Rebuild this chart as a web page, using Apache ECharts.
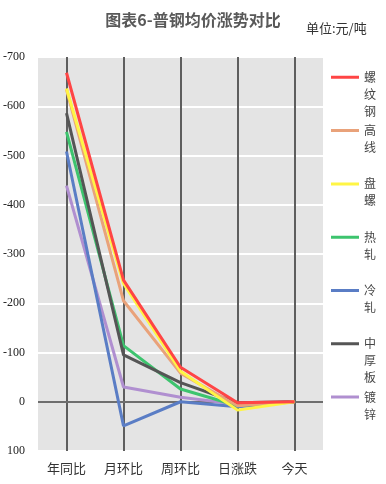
<!DOCTYPE html>
<html><head><meta charset="utf-8">
<script src="https://cdn.jsdelivr.net/npm/echarts@6/dist/echarts.min.js"></script>
<style>html,body{margin:0;padding:0;background:#fff}#c{width:386px;height:484px}</style>
</head><body><div id="c"></div>
<script>
// ---- data ----
const categories = ['年同比', '月环比', '周环比', '日涨跌', '今天'];
const seriesNames = ['螺纹钢', '高线', '盘螺', '热轧', '冷轧', '中厚板', '镀锌'];
const luoWenGang = [-668, -247, -70, 2, 0];
const gaoXian = [-634, -205, -58, 8, 0];
const panLuo = [-636, -240, -62, 17, 0];
const reZha = [-548, -114, -26, 8, 0];
const lengZha = [-508, 49, 0, 10, 0];
const zhongHouBan = [-586, -95, -39, 2, 0];
const duXin = [-439, -30, -9, 5, 0];
const yMin = -700, yMax = 100, yStep = 100;

const seriesValues = [luoWenGang, gaoXian, panLuo, reZha, lengZha, zhongHouBan, duXin];
const colors = ['#FF4545', '#E9A27A', '#FFF545', '#3DC46E', '#5A7DC5', '#555555', '#B08FD0'];
const zOrder = [20, 18, 19, 16, 15, 17, 14];

const chart = echarts.init(document.getElementById('c'), null, {renderer: 'canvas'});

const series = seriesNames.map((name, i) => ({
  name: name,
  type: 'line',
  data: seriesValues[i],
  symbol: 'none',
  showSymbol: false,
  z: zOrder[i],
  color: colors[i],
  lineStyle: {width: 3, color: colors[i]},
  emphasis: {disabled: true}
}));

series[0].markLine = {
  silent: true,
  z: 3,
  symbol: ['none', 'none'],
  label: {show: false},
  animation: false,
  data: categories.map(c => ({xAxis: c, lineStyle: {color: '#5e5e5e', width: 2, type: 'solid'}}))
    .concat([{yAxis: 0, lineStyle: {color: '#6e6e6e', width: 2, type: 'solid'}}])
};

const legendIcon = 'path://M0,0L0.001,0L0,0.001ZM0,7L28,7L28,10L0,10ZM28,51L27.999,51L28,50.999Z';

chart.setOption({
  animation: false,
  backgroundColor: '#ffffff',
  title: [
    {text: '图表6-普钢均价涨势对比', left: 'center', top: 12, padding: 0,
     textStyle: {fontSize: 16, fontWeight: 'bold', color: '#595959', fontFamily: 'Noto Sans CJK SC'}},
    {text: '单位:元/吨', left: 306, top: 22, padding: 0,
     textStyle: {fontSize: 13, fontWeight: 'normal', color: '#333333', fontFamily: 'Noto Sans CJK SC'}}
  ],
  legend: {
    orient: 'vertical',
    left: 331,
    top: 68.8,
    padding: 0,
    itemWidth: 28,
    itemHeight: 51,
    itemGap: 2.3,
    icon: legendIcon,
    symbolKeepAspect: false,
    itemStyle: {borderWidth: 0},
    data: seriesNames,
    formatter: function (name) {
      let s = name.split('').join('\n');
      if (name.length < 3) s += '\n';
      return s;
    },
    textStyle: {fontSize: 12, lineHeight: 17, color: '#454545', fontFamily: 'Noto Sans CJK SC'}
  },
  grid: {
    left: 38, right: 63, top: 57, bottom: 33,
    show: true, backgroundColor: '#e4e4e4', borderWidth: 0,
    containLabel: false, outerBoundsMode: 'none'
  },
  xAxis: {
    type: 'category',
    data: categories,
    boundaryGap: true,
    axisLine: {show: false, onZero: false},
    axisTick: {show: false},
    splitLine: {show: false},
    axisLabel: {fontSize: 13, color: '#333333', margin: 11, fontFamily: 'Noto Sans CJK SC'}
  },
  yAxis: {
    type: 'value',
    inverse: true,
    min: yMin, max: yMax, interval: yStep,
    axisLine: {show: false},
    axisTick: {show: false},
    splitLine: {show: true, lineStyle: {color: '#ffffff', width: 2}},
    axisLabel: {fontSize: 12, color: '#222222', margin: 13, fontFamily: 'Liberation Serif'}
  },
  series: series
});
</script>
</body></html>
